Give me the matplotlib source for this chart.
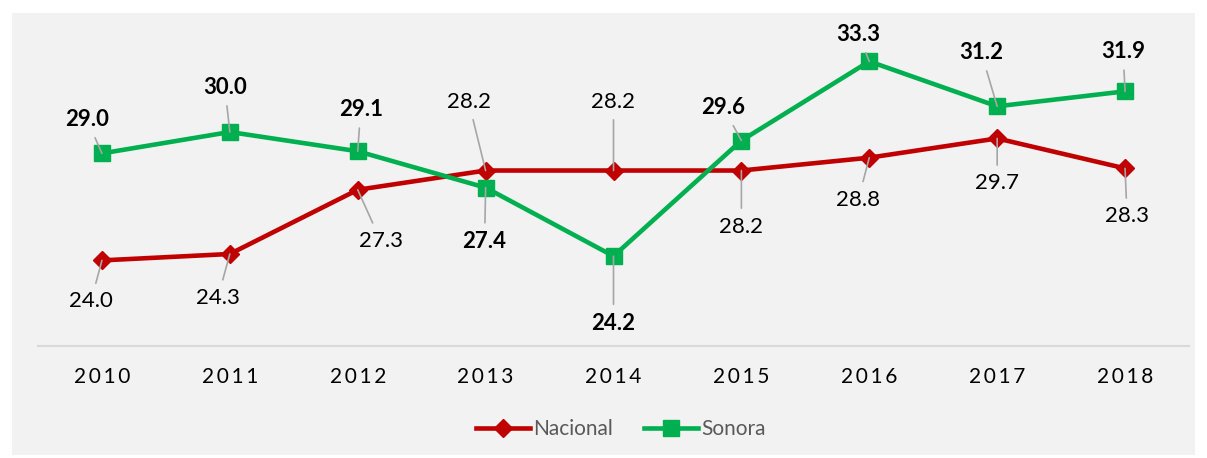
import matplotlib
matplotlib.use('Agg')
import matplotlib.pyplot as plt
from matplotlib.patches import Rectangle

# data
years = ['2010', '2011', '2012', '2013', '2014', '2015', '2016', '2017', '2018']
nacional = [24.0, 24.3, 27.3, 28.2, 28.2, 28.2, 28.8, 29.7, 28.3]
sonora = [29.0, 30.0, 29.1, 27.4, 24.2, 29.6, 33.3, 31.2, 31.9]

# label offsets (pixels) from each point
nac_offsets = [(-11, -41), (-12, -44), (23, -51), (-17, 69), (0, 69),
               (0, -56), (-11, -42), (0, -45), (2, -48)]
son_offsets = [(-15, 34), (-5, 45), (3, 42), (-1, -54), (0, -67),
               (-18, 33), (-11, 27), (-16, 54), (-2, 40)]

RED = '#c00000'
GREEN = '#00b050'
LEADER = '#a6a6a6'

plt.rcParams['font.family'] = ['Lato', 'DejaVu Sans']

fig = plt.figure(figsize=(12.07, 4.58), dpi=100)
fig.patches.append(Rectangle((12 / 1207, 3 / 458), (1195 - 12) / 1207, (455 - 13) / 458,
                             transform=fig.transFigure, facecolor='#f2f2f2',
                             edgecolor='none', zorder=-10))

ax = fig.add_axes([38 / 1207, 1 - 346 / 458, 1151 / 1207, 321 / 458])
ax.set_facecolor('none')
ax.set_zorder(1)

x = list(range(len(years)))
ax.plot(x, nacional, color=RED, lw=3.3, marker='D', markersize=9.5,
        label='Nacional', zorder=3)
ax.plot(x, sonora, color=GREEN, lw=3.3, marker='s', markersize=12,
        label='Sonora', zorder=3)

def add_labels(values, offsets, bold):
    for i, (v, off) in enumerate(zip(values, offsets)):
        ax.annotate(f'{v:.1f}', xy=(i, v), xytext=off, textcoords='offset pixels',
                    ha='center', va='center', fontsize=16,
                    fontweight='bold' if bold else 'normal', color='black',
                    arrowprops=dict(arrowstyle='-', color=LEADER, lw=1.2,
                                    shrinkA=4, shrinkB=0),
                    zorder=5)

add_labels(nacional, nac_offsets, False)
add_labels(sonora, son_offsets, True)

ax.set_xlim(-0.5, len(years) - 0.5)
ax.set_ylim(20, 35)
ax.set_yticks([])
ax.set_xticks(x)
ax.set_xticklabels(['\u2009'.join(y) for y in years], fontsize=15, color='black')
ax.tick_params(axis='x', length=0, pad=15)
for s in ['top', 'left', 'right']:
    ax.spines[s].set_visible(False)
ax.spines['bottom'].set_color('#d9d9d9')
ax.spines['bottom'].set_linewidth(1.5)

leg = fig.legend(loc='center', bbox_to_anchor=(621 / 1207, 1 - 429 / 458), ncol=2,
                 frameon=False, fontsize=15, handlelength=2.6, handletextpad=0.15,
                 columnspacing=1.5)
for t in leg.get_texts():
    t.set_color('#595959')

fig.savefig('out.png', dpi=100)
